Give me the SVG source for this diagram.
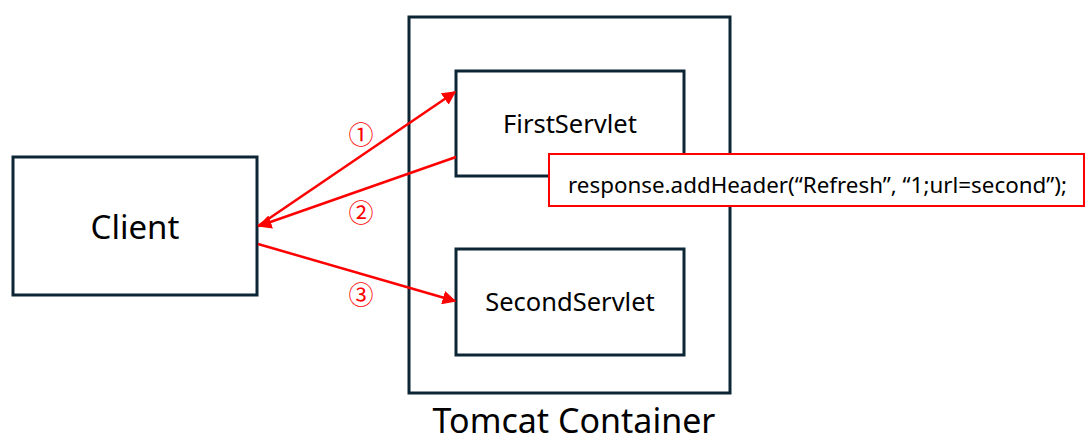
<svg xmlns="http://www.w3.org/2000/svg" width="1091" height="446" viewBox="0 0 1091 446">
<style>
.box{fill:#fff;stroke:#0d2636;stroke-width:3}
.lbl{font-family:"Noto Sans","Open Sans",sans-serif;fill:#000;text-anchor:middle}
.arr{stroke:#ff0000;stroke-width:2.5;fill:none}
.num{font-family:"Noto Sans CJK KR",sans-serif;fill:#ff0000;font-size:25px;text-anchor:middle}
</style>
<defs>
<marker id="ah" viewBox="0 0 10 10" refX="9" refY="5" markerWidth="5.5" markerHeight="5.5" markerUnits="strokeWidth" orient="auto">
<path d="M0,0 L10,5 L0,10 z" fill="#ff0000"/>
</marker>
</defs>
<rect width="1091" height="446" fill="#fff"/>
<g id="tomcat">
<rect class="box" x="409" y="17" width="321" height="376"/>
<text class="lbl" x="574" y="433" font-size="34">Tomcat Container</text>
</g>
<g id="client">
<rect class="box" x="13" y="157" width="244" height="138"/>
<text class="lbl" x="135" y="239" font-size="33">Client</text>
</g>
<g id="firstservlet">
<rect class="box" x="456" y="71" width="228" height="105"/>
<text class="lbl" x="570" y="133" font-size="25.5">FirstServlet</text>
</g>
<g id="secondservlet">
<rect class="box" x="456" y="249" width="228" height="106"/>
<text class="lbl" x="570" y="311" font-size="25.5">SecondServlet</text>
</g>
<g id="connectors">
<line class="arr" x1="258" y1="226" x2="455" y2="92" marker-end="url(#ah)"/>
<line class="arr" x1="456" y1="157" x2="259" y2="226" marker-end="url(#ah)"/>
<line class="arr" x1="258" y1="244" x2="455" y2="301" marker-end="url(#ah)"/>
<text class="num" x="361" y="144">①</text>
<text class="num" x="361" y="222">②</text>
<text class="num" x="361" y="304">③</text>
</g>
<g id="note">
<rect x="549" y="154" width="535" height="52" fill="#fff" stroke="#ff0000" stroke-width="2"/>
<text x="568" y="193" font-family="Noto Sans, Open Sans, sans-serif" font-size="21" textLength="499" lengthAdjust="spacingAndGlyphs">response.addHeader(“Refresh”, “1;url=second”);</text>
</g>
</svg>
